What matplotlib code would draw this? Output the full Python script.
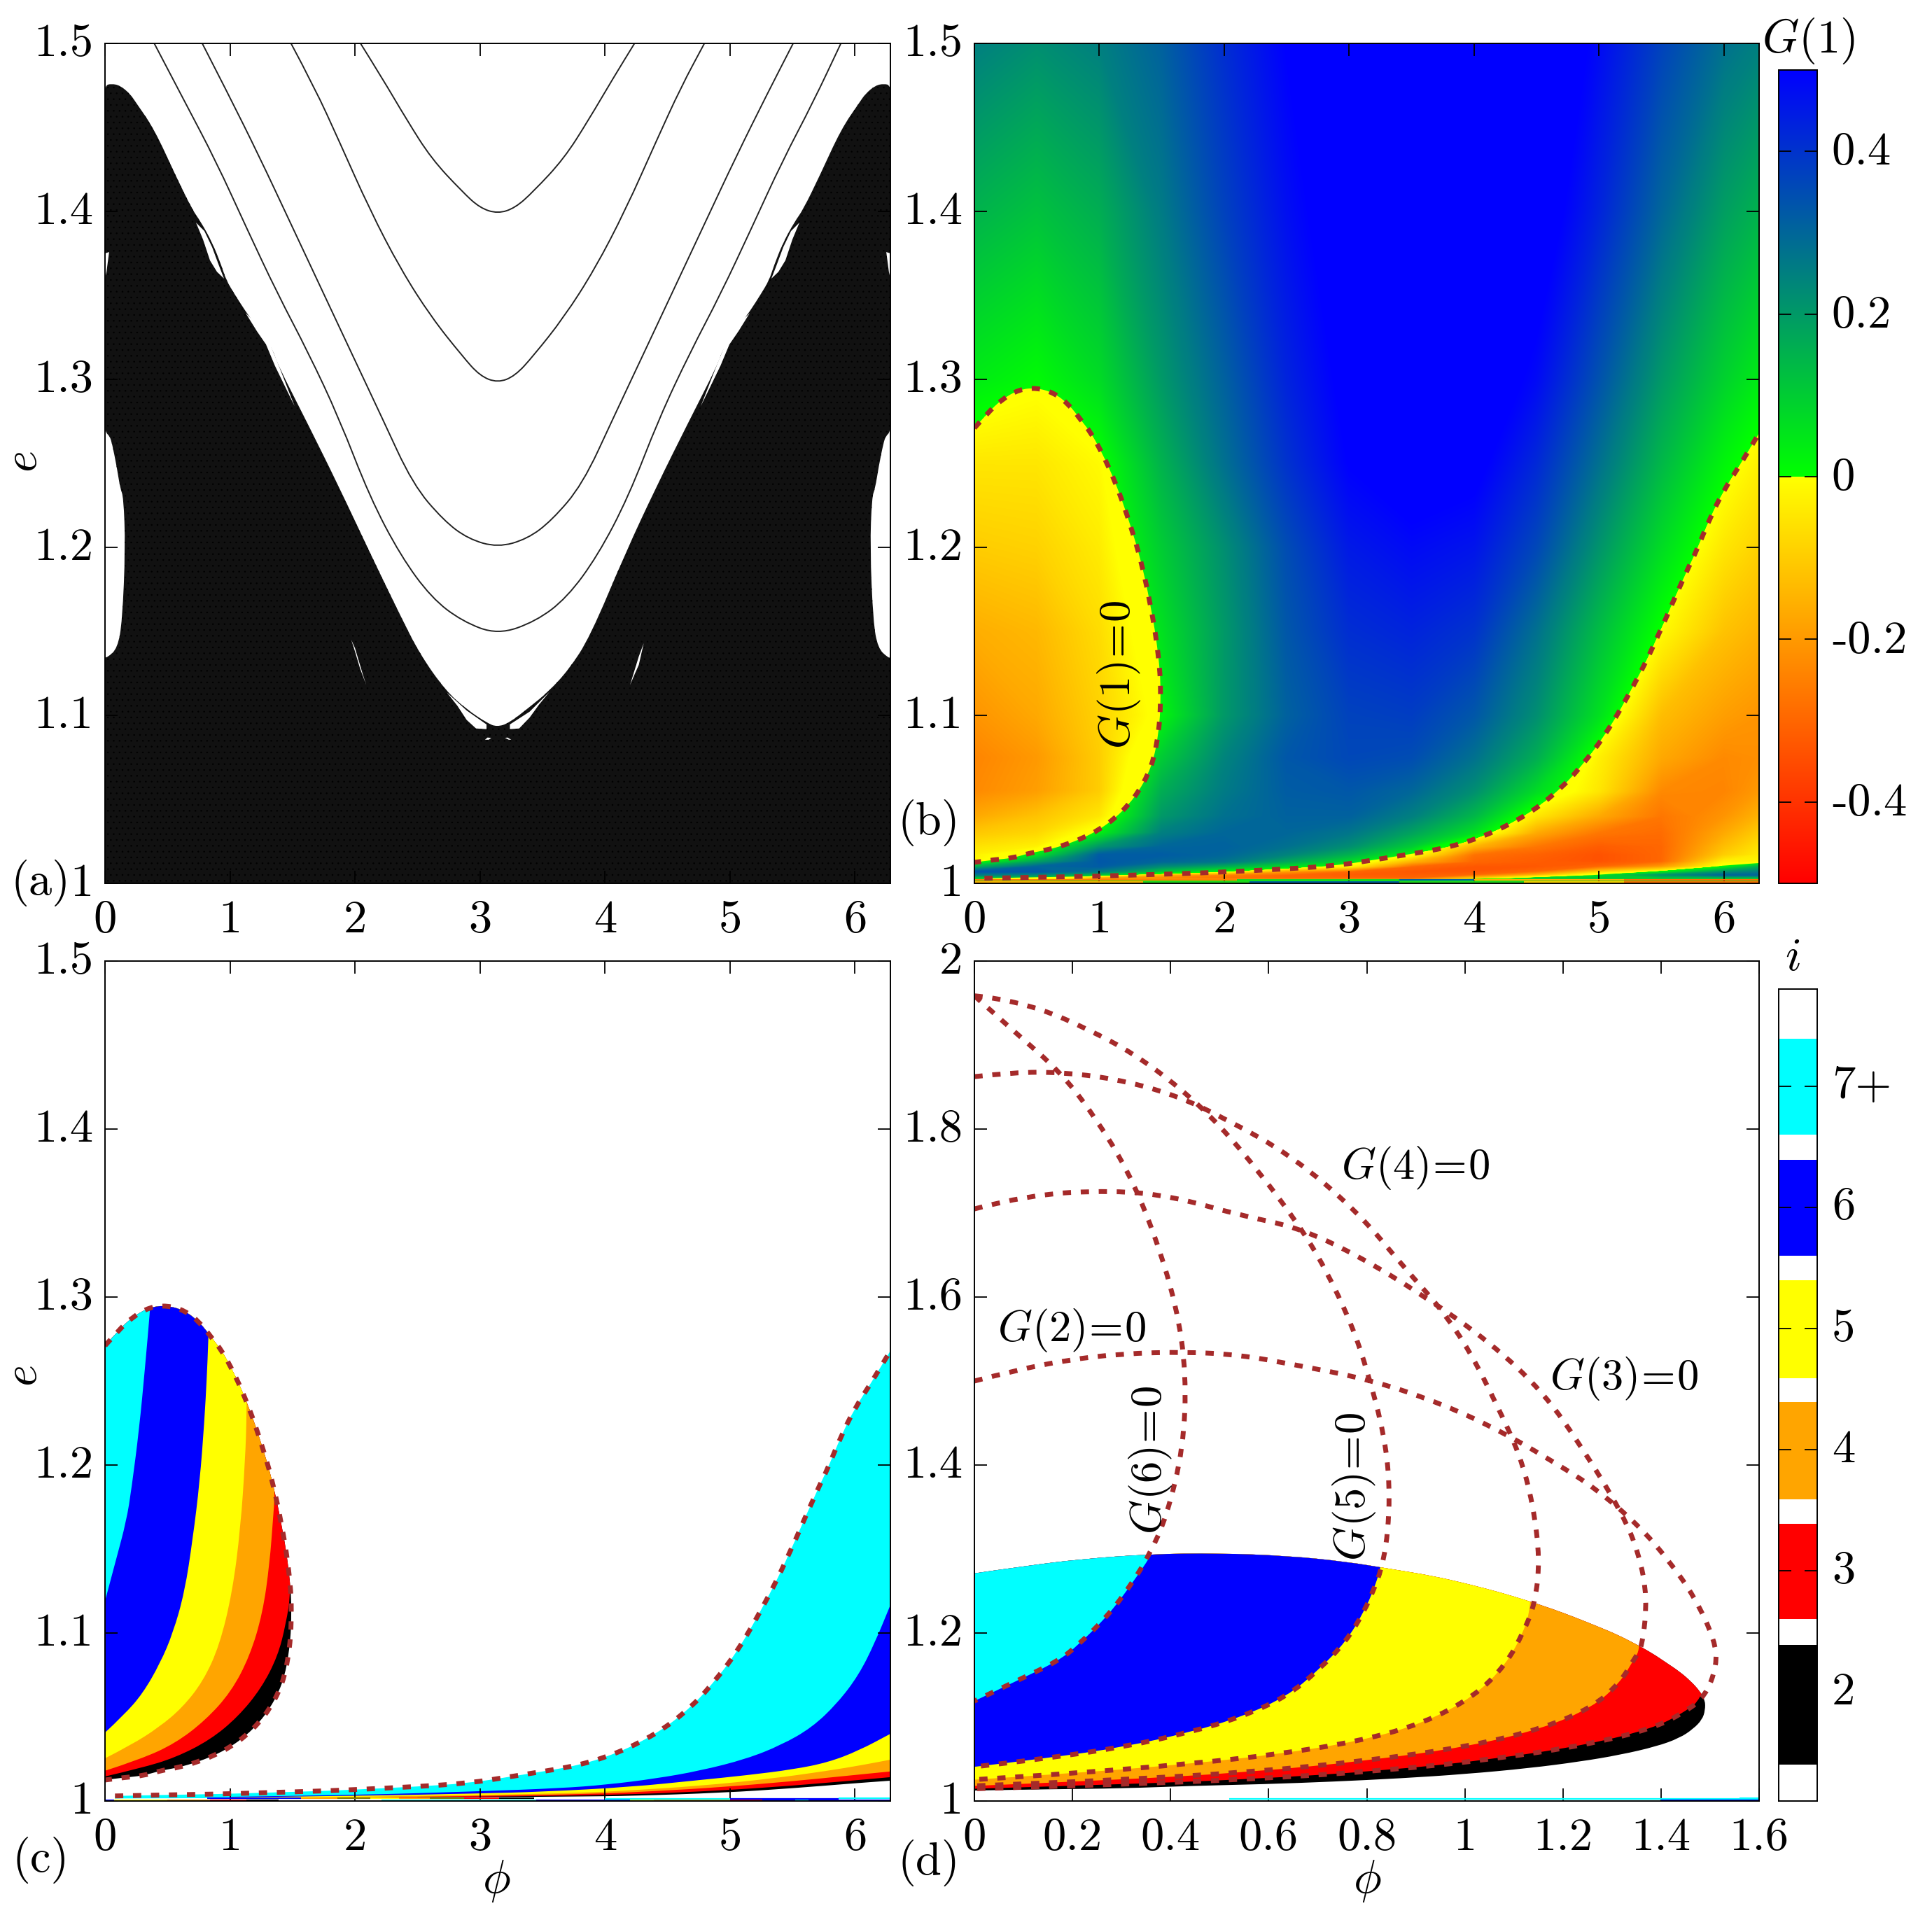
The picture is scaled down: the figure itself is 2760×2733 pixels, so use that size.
import numpy as np
import matplotlib
matplotlib.use('Agg')
import matplotlib.pyplot as plt
from matplotlib.colors import LinearSegmentedColormap, Normalize
from matplotlib.cm import ScalarMappable
from matplotlib.patches import PathPatch
from matplotlib.path import Path
from matplotlib.transforms import ScaledTranslation

plt.rcParams['font.family'] = ['cmr10', 'DejaVu Sans']
plt.rcParams['mathtext.fontset'] = 'cm'
plt.rcParams['axes.unicode_minus'] = False
plt.rcParams['axes.formatter.use_mathtext'] = True
plt.rcParams['hatch.linewidth'] = 0.5
plt.rcParams['hatch.color'] = '#e0e0e0'

# panel (a): outline of the black region
black_phi = [0, .02, .1, .138, .163, .148, .122, .094, .056, .0375, 0, 0, 0, 0, .05, .12, .2, .246, .394, .567, .70, .765,
             .859, .933, .97, 1.036, 1.12, 1.213, 1.288, 1.344, 1.38, 1.626, 1.872, 2.118, 2.365, 2.52, 2.725, 2.893,
             3.06, 3.135, 3.23, 3.397, 3.546, 3.71, 3.88, 4.165, 4.41, 4.657, 4.903, 4.939, 5.07, 5.163, 5.247, 5.313,
             5.35, 5.424, 5.518, 5.583, 5.716, 5.889, 6.037, 6.083, 6.163, 6.233, 6.283, 6.283, 6.283, 6.283, 6.246, 6.227,
             6.189, 6.161, 6.135, 6.12, 6.145, 6.183, 6.263, 6.283]
black_e = [1.1344, 1.1344, 1.14, 1.156, 1.2, 1.23, 1.235, 1.248, 1.262, 1.2662, 1.2688, 1.28, 1.465, 1.475, 1.476, 1.475,
           1.47, 1.465, 1.449, 1.421, 1.4008, 1.394, 1.3814, 1.3675, 1.359, 1.3508, 1.341, 1.3314, 1.323, 1.3175, 1.309,
           1.273, 1.236, 1.197, 1.159, 1.1363, 1.1147, 1.1036, 1.0953, 1.0932, 1.0953, 1.105, 1.114, 1.1272, 1.1467,
           1.197, 1.236, 1.273, 1.309, 1.3175, 1.3314, 1.341, 1.3508, 1.359, 1.3675, 1.3814, 1.394, 1.4008, 1.421,
           1.449, 1.465, 1.47, 1.475, 1.476, 1.475, 1.465, 1.28, 1.2688, 1.2662, 1.262, 1.248, 1.235, 1.23, 1.2, 1.156,
           1.14, 1.1344, 1.1344]

# white islands inside the black region
islands = [
    ([0, .033, .012, 0], [1.375, 1.3758, 1.364, 1.36]),
    ([6.283, 6.25, 6.271, 6.283], [1.375, 1.3758, 1.364, 1.36]),
    ([.728, .784, .84, .896, .952, .913, .857, .795], [1.3933, 1.3833, 1.3708, 1.364, 1.36, 1.3675, 1.3787, 1.3883]),
    ([5.555, 5.499, 5.443, 5.387, 5.331, 5.37, 5.426, 5.488], [1.3933, 1.3833, 1.3708, 1.364, 1.36, 1.3675, 1.3787, 1.3883]),
    ([1.125, 1.215, 1.288, 1.36, 1.517, 1.37, 1.30, 1.22], [1.3395, 1.3287, 1.3208, 1.308, 1.284, 1.312, 1.3245, 1.3325]),
    ([5.158, 5.068, 4.995, 4.923, 4.766, 4.913, 4.983, 5.063], [1.3395, 1.3287, 1.3208, 1.308, 1.284, 1.312, 1.3245, 1.3325]),
    ([2.735, 2.893, 3.052, 3.052, 2.968, 2.893, 2.819], [1.1136, 1.1029, 1.0946, 1.0918, 1.0922, 1.0973, 1.1057]),
    ([3.556, 3.397, 3.239, 3.239, 3.313, 3.397, 3.472], [1.114, 1.1022, 1.0946, 1.0918, 1.0922, 1.0987, 1.1064]),
    ([3.04, 3.06, 3.09, 3.07], [1.0855, 1.0868, 1.0866, 1.0855]),
    ([3.2, 3.22, 3.25, 3.23], [1.0866, 1.0868, 1.0855, 1.0855]),
    ([1.97, 2.0, 2.06, 2.09, 2.04, 2.0], [1.145, 1.14, 1.125, 1.118, 1.128, 1.138]),
    ([4.31, 4.27, 4.2, 4.24, 4.27], [1.143, 1.135, 1.118, 1.125, 1.13]),
]

# panel (a): thin level curves above the black region
curve1_phi = [2.044, 2.217, 2.414, 2.611, 2.857, 3.0, 3.142, 3.28, 3.427, 3.672, 3.869, 4.066, 4.236]
curve1_e = [1.5, 1.4794, 1.4545, 1.4314, 1.4118, 1.402, 1.3987, 1.402, 1.4118, 1.4314, 1.4545, 1.4794, 1.5]
curve2_phi = [1.488, 1.675, 1.872, 2.118, 2.365, 2.611, 2.857, 3.0, 3.142, 3.28, 3.427, 3.672, 3.918, 4.165, 4.411,
              4.608, 4.795]
curve2_e = [1.5, 1.474, 1.442, 1.401, 1.3656, 1.337, 1.314, 1.302, 1.298, 1.302, 1.314, 1.337, 1.3656, 1.401, 1.442,
            1.474, 1.5]
curve3_phi = [.778, .985, 1.232, 1.478, 1.724, 1.97, 2.217, 2.463, 2.709, 2.906, 3.142, 3.378, 3.574, 3.82, 4.066,
              4.313, 4.559, 4.805, 5.051, 5.298, 5.505]
curve3_e = [1.5, 1.47, 1.433, 1.394, 1.355, 1.316, 1.277, 1.2375, 1.216, 1.205, 1.2, 1.205, 1.216, 1.2375, 1.277, 1.316,
            1.355, 1.394, 1.433, 1.47, 1.5]
curve4_phi = [.394, .64, .887, 1.133, 1.38, 1.626, 1.872, 2.118, 2.365, 2.611, 2.857, 3.142, 3.448, 3.695, 3.941, 4.187,
              4.433, 4.68, 4.926, 5.172, 5.419, 5.665, 5.887]
curve4_e = [1.5, 1.465, 1.43, 1.39, 1.351, 1.316, 1.277, 1.23, 1.195, 1.17, 1.156, 1.148, 1.156, 1.17, 1.195, 1.23,
            1.277, 1.316, 1.351, 1.39, 1.43, 1.465, 1.5]

# G(1)=0: closed lobe on the left and the long curve along the bottom
lobe_phi = [0, .106, .218, .358, .497, .637, .758, .851, .935, 1.009, 1.074, 1.125, 1.177, 1.223, 1.27, 1.311, 1.348,
            1.382, 1.41, 1.438, 1.46, 1.479, 1.49, 1.49, 1.484, 1.466, 1.438, 1.391, 1.317, 1.236, 1.13, 1.0, .87, .73,
            .59, .441, .302, .153, 0]
lobe_e = [1.271, 1.28, 1.288, 1.294, 1.295, 1.292, 1.285, 1.276, 1.268, 1.258, 1.248, 1.239, 1.229, 1.219, 1.208, 1.198,
          1.187, 1.176, 1.165, 1.154, 1.143, 1.131, 1.12, 1.108, 1.097, 1.086, 1.075, 1.065, 1.055, 1.047, 1.039, 1.032,
          1.027, 1.023, 1.02, 1.018, 1.015, 1.014, 1.0125]
lower_phi = [.08, .45, .9, 1.347, 1.716, 2.005, 2.45, 2.9, 3.27, 3.57, 3.733, 3.882, 4.022, 4.162, 4.297, 4.427, 4.549,
             4.66, 4.769, 4.866, 4.961, 5.043, 5.125, 5.2, 5.272, 5.341, 5.408, 5.47, 5.534, 5.595, 5.657, 5.717, 5.776,
             5.89, 6.0, 6.13, 6.283]
lower_e = [1.003, 1.0036, 1.0041, 1.0051, 1.0059, 1.0068, 1.0084, 1.0105, 1.0148, 1.0184, 1.0206, 1.0233, 1.0267, 1.0308,
           1.0357, 1.0412, 1.0475, 1.0544, 1.0621, 1.0706, 1.0792, 1.0879, 1.0975, 1.1072, 1.117, 1.1267, 1.1367, 1.1469,
           1.1572, 1.1678, 1.178, 1.188, 1.197, 1.2175, 1.234, 1.249, 1.268]

# panel (c) right-hand band, boundaries between the colours
band_cyan_phi = [1.0, 2.0, 3.0, 3.64, 4.013, 4.4, 4.76, 5.13, 5.41, 5.655, 5.86, 6.03, 6.16, 6.283]
band_cyan_e = [1.0025, 1.0035, 1.0058, 1.0076, 1.0097, 1.0133, 1.018, 1.025, 1.0333, 1.0437, 1.0583, 1.075, 1.0944, 1.1167]
band_blue_phi = [1.0, 2.0, 3.0, 3.5, 4.2, 4.76, 5.13, 5.505, 5.785, 6.03, 6.283]
band_blue_e = [1.0022, 1.003, 1.0045, 1.0055, 1.0083, 1.0125, 1.0153, 1.0188, 1.023, 1.03, 1.04]
band_yellow_phi = [1.5, 3.0, 3.83, 4.2, 4.76, 5.32, 5.785, 6.065, 6.283]
band_yellow_e = [1.002, 1.0035, 1.0049, 1.0063, 1.009, 1.0132, 1.018, 1.0215, 1.0246]
band_orange_phi = [2.0, 3.0, 3.92, 4.386, 4.946, 5.505, 5.88, 6.283]
band_orange_e = [1.002, 1.003, 1.0042, 1.0058, 1.0083, 1.0118, 1.0146, 1.0176]
band_red_phi = [2.5, 3.4, 4.2, 4.76, 5.32, 5.88, 6.283]
band_red_e = [1.0022, 1.0028, 1.0039, 1.0056, 1.0081, 1.0115, 1.0142]
band_black_phi = [.08, 3.0, 3.8, 4.2, 4.946, 5.505, 5.97, 6.283]
band_black_e = [1.0015, 1.0022, 1.0027, 1.003, 1.0049, 1.0076, 1.0104, 1.0121]

# panel (c) left lobe, boundaries between the colours
lobe_red_phi = [0, .283, .562, .842, 1.065, 1.251, 1.382, 1.447, 1.488, 1.6]
lobe_red_e = [1.0146, 1.0195, 1.0258, 1.0364, 1.0502, 1.0672, 1.0862, 1.1053, 1.1244, 1.3]
lobe_orange_phi = [0, .283, .562, .804, 1.009, 1.158, 1.261, 1.317, 1.345, 1.358, 1.37]
lobe_orange_e = [1.018, 1.0248, 1.0343, 1.0481, 1.065, 1.0862, 1.1117, 1.1413, 1.1689, 1.1816, 1.3]
lobe_yellow_phi = [0, .209, .432, .618, .786, .916, 1.019, 1.084, 1.121, 1.134, 1.14]
lobe_yellow_e = [1.0254, 1.0333, 1.0439, 1.0555, 1.0714, 1.0926, 1.1244, 1.1625, 1.2028, 1.2303, 1.3]
lobe_blue_phi = [0, .153, .302, .441, .544, .637, .702, .758, .795, .814, .827, .835]
lobe_blue_e = [1.0407, 1.0513, 1.064, 1.082, 1.1, 1.1244, 1.156, 1.19, 1.226, 1.2515, 1.2744, 1.3]
lobe_cyan_phi = [0, .0875, .171, .212, .274, .32, .361, .365]
lobe_cyan_e = [1.119, 1.1434, 1.1667, 1.1858, 1.2218, 1.2578, 1.2928, 1.3]

# panel (d): dashed curves G(i)=0
g2_phi = [0, .082, .19, .298, .432, .54, .648, .809, .958, 1.079, 1.187, 1.267, 1.355, 1.415, 1.469, 1.51, 1.514, 1.49,
          1.447, 1.382, 1.251, 1.065, .842, .562, .283, 0]
g2_e = [1.5, 1.5126, 1.5251, 1.5325, 1.5348, 1.5311, 1.52, 1.5015, 1.4719, 1.4386, 1.4016, 1.372, 1.3277, 1.287, 1.2426,
        1.1908, 1.1612, 1.1243, 1.1053, 1.0862, 1.0672, 1.0502, 1.0364, 1.0258, 1.0195, 1.0146]
g3_phi = [0, .109, .284, .405, .54, .661, .782, .917, 1.052, 1.16, 1.24, 1.321, 1.355, 1.372, 1.362, 1.345, 1.317, 1.261,
          1.158, 1.009, .804, .562, .283, 0]
g3_e = [1.7049, 1.7219, 1.7271, 1.7197, 1.6975, 1.6827, 1.6494, 1.6013, 1.5459, 1.4867, 1.4201, 1.3425, 1.2944, 1.2426,
        1.1834, 1.1689, 1.1413, 1.1117, 1.0862, 1.065, 1.0481, 1.0343, 1.0248, 1.018]
g4_phi = [0, .082, .176, .284, .405, .513, .648, .782, .877, .951, 1.011, 1.065, 1.112, 1.139, 1.153, 1.143, 1.121, 1.084,
          1.019, .916, .786, .618, .432, .209, 0]
g4_e = [1.8624, 1.8676, 1.8676, 1.8602, 1.8417, 1.8121, 1.7678, 1.7012, 1.6346, 1.5865, 1.5348, 1.4719, 1.4127, 1.3536,
        1.287, 1.2352, 1.2028, 1.1625, 1.1244, 1.0926, 1.0714, 1.0555, 1.0439, 1.0333, 1.0254]
g5_phi = [0, .042, .136, .23, .325, .419, .5, .58, .661, .715, .769, .803, .836, .847, .843, .83, .814, .795, .758, .702,
          .637, .544, .441, .302, .153, 0]
g5_e = [1.9586, 1.9564, 1.9431, 1.9194, 1.8898, 1.8491, 1.8047, 1.7493, 1.6864, 1.6346, 1.568, 1.5089, 1.4349, 1.3757,
        1.3166, 1.2759, 1.2515, 1.226, 1.19, 1.156, 1.1244, 1.1, 1.082, 1.064, 1.0513, 1.0407]
g6_phi = [0, .082, .176, .244, .311, .365, .412, .432, .426, .392, .358, .32, .274, .212, .171, .0875, 0]
g6_e = [1.9586, 1.9157, 1.8676, 1.8158, 1.7529, 1.679, 1.5902, 1.5089, 1.4201, 1.3388, 1.2944, 1.2578, 1.2218, 1.1858,
        1.1667, 1.1434, 1.119]

# panel (b): G(1)
g_phi = [0, .5, 1, 1.5, 2, 2.5, 3, 3.5, 4, 4.5, 5, 5.5, 6, 6.283]
g_e = [1.0, 1.003, 1.005, 1.007, 1.01, 1.013, 1.017, 1.022, 1.03, 1.04, 1.055, 1.075, 1.1, 1.15, 1.2, 1.25, 1.3, 1.4, 1.5]
g_vals = [
    [.05, .05, .05, .05, .05, .05, .05, .05, .05, .05, .05, .05, .05, .05],
    [.08, .08, -.25, -.25, -.28, -.3, -.3, -.3, -.1, .1, .1, .1, .1, .1],
    [.25, .22, .1, -.15, -.25, -.3, -.32, -.32, -.3, -.15, .05, .2, .3, .3],
    [.33, .33, .25, .1, 0, -.2, -.3, -.33, -.33, -.3, -.1, .02, .2, .25],
    [.15, .3, .32, .22, .15, .06, -.03, -.3, -.33, -.33, -.3, -.2, .02, .15],
    [-.02, .18, .33, .3, .27, .17, .07, -.15, -.3, -.32, -.34, -.3, -.03, -.02],
    [-.03, .05, .32, .32, .3, .24, .15, .01, -.28, -.31, -.34, -.3, -.1, -.04],
    [-.06, -.03, .2, .3, .31, .28, .22, .1, -.15, -.27, -.32, -.3, -.13, -.06],
    [-.11, -.08, .03, .25, .3, .3, .27, .18, .06, -.17, -.27, -.29, -.17, -.1],
    [-.17, -.12, -.05, .2, .28, .31, .31, .25, .14, -.05, -.17, -.27, -.21, -.15],
    [-.23, -.19, -.1, .16, .26, .32, .33, .3, .22, .07, -.05, -.23, -.24, -.2],
    [-.24, -.2, -.1, .1, .24, .33, .36, .35, .28, .16, -.03, -.17, -.23, -.22],
    [-.21, -.17, -.09, .02, .2, .31, .37, .38, .33, .22, .06, -.13, -.19, -.21],
    [-.16, -.14, -.07, .06, .2, .33, .41, .43, .4, .28, .13, -.01, -.12, -.15],
    [-.1, -.09, -.04, .1, .22, .35, .45, .48, .46, .36, .21, .07, -.05, -.09],
    [-.05, -.05, -.01, .15, .28, .4, .5, .54, .52, .42, .28, .14, .02, -.03],
    [.04, .01, .07, .2, .31, .43, .52, .56, .56, .48, .34, .2, .09, .04],
    [.15, .12, .16, .26, .37, .47, .55, .6, .6, .55, .43, .3, .19, .15],
    [.25, .22, .25, .31, .41, .5, .58, .62, .62, .58, .48, .37, .28, .25],
]

# thin stripes along e=1
stripe_b_start = [0, 1.35, 2.2, 3.4, 4.4, 5.2, 0, 2.1, 3.4, 4.0, 5.2]
stripe_b_end = [1.35, 2.2, 3.4, 4.4, 5.2, 6.283, 2.1, 3.4, 4.0, 5.2, 6.283]
stripe_b_e = [1.0007, 1.0007, 1.0007, 1.0007, 1.0007, 1.0007, 1.0019, 1.0019, 1.0019, 1.0019, 1.0019]
stripe_b_col = ['#ffb000', '#20d020', '#0060a0', '#20d020', '#ffd000', '#ff7000',
                '#ff8000', '#20d020', '#0060a0', '#ffb000', '#ff7000']
stripe_c_start = [0, .07, .5, .84, 1.13, 2.21, 3.45, 4.2, 4.39, 5.0, 5.26, 5.52, 5.63, .82, 1.57, 1.86, 2.12, 2.35, 2.6,
                  2.87, 3.15, 4.0, 5.0, 5.87]
stripe_c_end = [.07, .5, .84, 1.13, 1.39, 3.45, 4.2, 4.39, 5.0, 5.26, 5.52, 5.63, 6.283, 1.57, 1.86, 2.12, 2.35, 2.6, 2.87,
                3.15, 3.43, 5.0, 5.87, 6.283]
stripe_c_e = [1.0006, 1.0006, 1.0006, 1.0006, 1.0006, 1.0006, 1.0006, 1.0006, 1.0006, 1.0006, 1.0006, 1.0006, 1.0006,
              1.0018, 1.0018, 1.0018, 1.0018, 1.0018, 1.0018, 1.0018, 1.0018, 1.0014, 1.0014, 1.0018]
stripe_c_col = ['blue', 'yellow', 'orange', 'red', 'black', 'cyan', 'blue', 'yellow', 'orange', 'red', 'blue', 'cyan',
                'blue', 'blue', 'orange', '#808000', 'yellow', 'orange', '#808000', 'red', 'black', 'cyan', 'blue', 'cyan']
stripe_d_start = [.52, 1.4, 1.56]
stripe_d_end = [1.6, 1.6, 1.6]
stripe_d_e = [1.0022, 1.0012, 1.0032]
stripe_d_col = ['cyan', 'blue', 'cyan']

# panel (d) colour key
key_low = [1.4, 2.6, 3.59, 4.59, 5.6, 6.6]
key_high = [2.39, 3.39, 4.39, 5.4, 6.39, 7.39]
key_colors = ['black', 'red', 'orange', 'yellow', 'blue', 'cyan']
key_ticks = [2, 3, 4, 5, 6, 7]
key_labels = ['2', '3', '4', '5', '6', '7+']

W, H = 2760, 2733
brown = '#a52a2a'
tick_fs = 48
note_fs = 45


def add_axes(x0, y0, x1, y1):
    return fig.add_axes([x0 / W, 1 - y1 / H, (x1 - x0) / W, (y1 - y0) / H])


def curve_path(p, e, tail=(), close=False):
    # quadratic segments through the midpoints, so the traced points draw as a smooth line
    pts = list(zip(p, e))
    verts = [pts[0]]
    codes = [Path.MOVETO]
    for a, b in zip(pts[1:-1], pts[2:]):
        verts += [a, ((a[0] + b[0]) / 2, (a[1] + b[1]) / 2)]
        codes += [Path.CURVE3, Path.CURVE3]
    verts.append(pts[-1])
    codes.append(Path.LINETO)
    for t in tail:
        verts.append(t)
        codes.append(Path.LINETO)
    if close:
        verts.append(pts[0])
        codes.append(Path.CLOSEPOLY)
    return Path(verts, codes)


def dashed(ax, p, e):
    ax.add_patch(PathPatch(curve_path(p, e), fill=False, ec=brown, lw=5.0, ls=(0, (1.7, 2.0)), capstyle='butt', zorder=6))


def lift_labels(ax, points):
    # the reference's y labels sit a little higher than the tick
    shift = ScaledTranslation(0, points / 72, fig.dpi_scale_trans)
    for label in ax.get_yticklabels():
        label.set_transform(label.get_transform() + shift)


def style(ax, xticks, xlabels, yticks, ylabels):
    ax.set_xticks(xticks)
    ax.set_xticklabels(xlabels)
    ax.set_yticks(yticks)
    ax.set_yticklabels(ylabels)
    ax.tick_params(direction='in', top=True, right=True, length=13, width=1.3, labelsize=tick_fs)
    ax.tick_params(axis='x', pad=17)
    ax.tick_params(axis='y', pad=12)
    lift_labels(ax, 4)
    for s in ax.spines.values():
        s.set_linewidth(1.4)
        s.set_zorder(10)


def put(x, y, s, **kw):
    # position given in pixels of the shrunk reference
    fig.text(x * 1.76 / W, 1 - y * 1.76 / H, s, ha='center', va='center', fontsize=kw.pop('fontsize', tick_fs), **kw)


def band(ax):
    for p, e, c in [(lower_phi, lower_e, 'cyan'), (band_cyan_phi, band_cyan_e, 'blue'),
                    (band_blue_phi, band_blue_e, 'yellow'), (band_yellow_phi, band_yellow_e, 'orange'),
                    (band_orange_phi, band_orange_e, 'red'), (band_red_phi, band_red_e, 'black'),
                    (band_black_phi, band_black_e, 'white')]:
        ax.add_patch(PathPatch(curve_path(p, e, [(p[-1], 1.0), (p[0], 1.0)], True), fc=c, lw=0))


def lobe(ax):
    patch = PathPatch(curve_path(lobe_phi, lobe_e, close=True), fc='black', lw=0)
    ax.add_patch(patch)
    for p, e, c in [(lobe_red_phi, lobe_red_e, 'red'), (lobe_orange_phi, lobe_orange_e, 'orange'),
                    (lobe_yellow_phi, lobe_yellow_e, 'yellow'), (lobe_blue_phi, lobe_blue_e, 'blue'),
                    (lobe_cyan_phi, lobe_cyan_e, 'cyan')]:
        poly = PathPatch(curve_path(p, e, [(0, 1.35)], True), fc=c, lw=0)
        ax.add_patch(poly)
        poly.set_clip_path(patch)


fig = plt.figure(figsize=(W / 100, H / 100), dpi=100, facecolor='white')
x_ticks = [0, 1, 2, 3, 4, 5, 6]
x_labels = ['0', '1', '2', '3', '4', '5', '6']
y_ticks = [1, 1.1, 1.2, 1.3, 1.4, 1.5]
y_labels = ['1', '1.1', '1.2', '1.3', '1.4', '1.5']

# (a)
ax = add_axes(150, 62, 1272, 1262)
ax.add_patch(PathPatch(curve_path(black_phi, black_e, [(6.283, 1.0), (0, 1.0)], True), fc='#111111', hatch='..', lw=0))
for p, e in islands:
    ax.fill(p, e, color='white', lw=0)
for p, e in [(curve1_phi, curve1_e), (curve2_phi, curve2_e), (curve3_phi, curve3_e), (curve4_phi, curve4_e)]:
    ax.add_patch(PathPatch(curve_path(p, e), fill=False, ec='#222222', lw=1.4))
ax.set_xlim(0, 6.283)
ax.set_ylim(1, 1.5)
style(ax, x_ticks, x_labels, y_ticks, y_labels)

# (b)
ax = add_axes(1392, 62, 2513, 1262)
pos_map = LinearSegmentedColormap.from_list('pos', ['lime', 'blue'], 256)
neg_map = LinearSegmentedColormap.from_list('neg', ['red', 'yellow'], 256)
cmap = LinearSegmentedColormap.from_list('g1', [(0, 'red'), (.5, 'yellow'), (.5, 'lime'), (1, 'blue')], 512)
Z = np.array(g_vals)
ax.contourf(g_phi, g_e, Z, levels=np.linspace(0, .5, 130), cmap=pos_map, extend='both', antialiased=False)
neg = ax.contourf(g_phi, g_e, Z, levels=np.linspace(-.5, 0, 130), cmap=neg_map, extend='both', antialiased=False)
neg_path = Path.make_compound_path(curve_path(lobe_phi, lobe_e, close=True),
                                   curve_path(lower_phi, lower_e, list(zip(band_black_phi[::-1], band_black_e[::-1])), True))
neg.set_clip_path(neg_path, transform=ax.transData)
ax.hlines(stripe_b_e, stripe_b_start, stripe_b_end, colors=stripe_b_col, lw=1.6, zorder=4)
dashed(ax, lobe_phi, lobe_e)
dashed(ax, lower_phi, lower_e)
ax.set_xlim(0, 6.283)
ax.set_ylim(1, 1.5)
style(ax, x_ticks, x_labels, y_ticks, y_labels)

cax = add_axes(2541, 100, 2596, 1262)
cb = fig.colorbar(ScalarMappable(Normalize(-.5, .5), cmap), cax=cax, ticks=[-.4, -.2, 0, .2, .4])
cax.set_yticklabels(['-0.4', '-0.2', '0', '0.2', '0.4'])
cax.tick_params(direction='in', left=True, right=True, length=13, width=1.3, labelsize=tick_fs, pad=15)
lift_labels(cax, 3)
cb.outline.set_linewidth(1.4)

# (c)
ax = add_axes(150, 1373, 1272, 2573)
band(ax)
lobe(ax)
ax.hlines(stripe_c_e, stripe_c_start, stripe_c_end, colors=stripe_c_col, lw=1.6, zorder=4)
dashed(ax, lobe_phi, lobe_e)
dashed(ax, lower_phi, lower_e)
ax.set_xlim(0, 6.283)
ax.set_ylim(1, 1.5)
style(ax, x_ticks, x_labels, y_ticks, y_labels)

# (d)
ax = add_axes(1392, 1373, 2513, 2573)
lobe(ax)
ax.hlines(stripe_d_e, stripe_d_start, stripe_d_end, colors=stripe_d_col, lw=1.6, zorder=4)
for p, e in [(g2_phi, g2_e), (g3_phi, g3_e), (g4_phi, g4_e), (g5_phi, g5_e), (g6_phi, g6_e)]:
    dashed(ax, p, e)
ax.set_xlim(0, 1.6)
ax.set_ylim(1, 2)
style(ax, [0, .2, .4, .6, .8, 1, 1.2, 1.4, 1.6], ['0', '0.2', '0.4', '0.6', '0.8', '1', '1.2', '1.4', '1.6'],
      [1, 1.2, 1.4, 1.6, 1.8, 2], ['1', '1.2', '1.4', '1.6', '1.8', '2'])

kax = add_axes(2541, 1413, 2596, 2573)
kax.bar(0, np.array(key_high) - np.array(key_low), bottom=key_low, width=1, color=key_colors)
kax.set_xlim(-.5, .5)
kax.set_ylim(1.1, 7.8)
kax.set_xticks([])
kax.yaxis.tick_right()
kax.set_yticks(key_ticks)
kax.set_yticklabels(key_labels)
kax.tick_params(direction='in', left=True, right=True, length=13, width=1.3, labelsize=tick_fs, pad=15)
lift_labels(kax, 4)
for s in kax.spines.values():
    s.set_linewidth(1.4)

# labels
put(33, 717, '(a)')
put(754, 668, '(b)')
put(33, 1510, '(c)')
put(754, 1512, '(d)')
put(20, 375, r'$e$', rotation=90)
put(20, 1117, r'$e$', rotation=90)
put(403, 1527, r'$\phi$')
put(1110, 1527, r'$\phi$')
put(1468, 33, r'$G(1)$')
put(1455, 778, r'$i$')
put(908, 548, r'$G(1)\!=\!0$', rotation=90, fontsize=note_fs)
put(934, 1185, r'$G(6)\!=\!0$', rotation=90, fontsize=note_fs)
put(1099, 1207, r'$G(5)\!=\!0$', rotation=90, fontsize=note_fs)
put(870, 1080, r'$G(2)\!=\!0$', fontsize=note_fs)
put(1149, 948, r'$G(4)\!=\!0$', fontsize=note_fs)
put(1318, 1119, r'$G(3)\!=\!0$', fontsize=note_fs)

fig.savefig('out.png', dpi=100)
